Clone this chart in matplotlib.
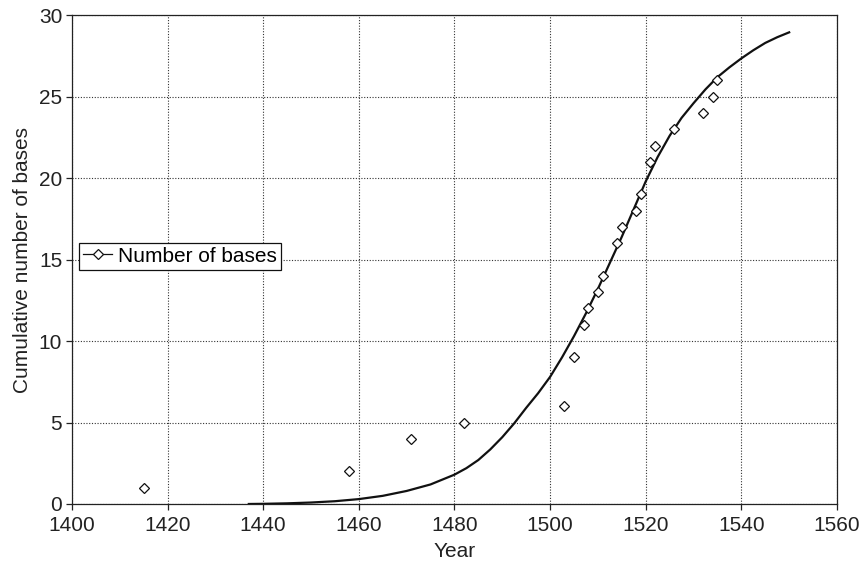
import matplotlib
matplotlib.use("Agg")
import matplotlib.pyplot as plt

# Observed data points (year, cumulative number of bases)
years = [1415, 1458, 1471, 1482, 1503, 1505, 1507, 1508, 1510, 1511,
         1514, 1515, 1518, 1519, 1521, 1522, 1526, 1532, 1534, 1535]
bases = [1, 2, 4, 5, 6, 9, 11, 12, 13, 14,
         16, 17, 18, 19, 21, 22, 23, 24, 25, 26]

# Fitted curve, values
curve_years = [1437, 1440, 1445, 1450, 1455, 1460, 1465, 1470, 1472.5, 1475,
               1477.5, 1480, 1482.5, 1485, 1487.5, 1490, 1492.5, 1495, 1497.5,
               1500, 1502.5, 1505, 1507.5, 1510, 1512.5, 1515, 1517.5, 1520,
               1522.5, 1525, 1527.5, 1530, 1532.5, 1535, 1537.5, 1540, 1542.5,
               1545, 1547.5, 1550]
curve_vals = [0.0, 0.01, 0.04, 0.09, 0.17, 0.3, 0.5, 0.8, 1.0, 1.2,
              1.5, 1.8, 2.2, 2.7, 3.35, 4.1, 4.95, 5.9, 6.8,
              7.8, 9.0, 10.3, 11.7, 13.2, 14.8, 16.4, 18.1, 19.8,
              21.3, 22.6, 23.7, 24.6, 25.45, 26.2, 26.8, 27.35, 27.85,
              28.3, 28.65, 28.95]

xticks = [1400, 1420, 1440, 1460, 1480, 1500, 1520, 1540, 1560]
yticks = [0, 5, 10, 15, 20, 25, 30]

plt.rcParams['font.family'] = ['Liberation Sans', 'DejaVu Sans']

fig = plt.figure(figsize=(8.66, 5.64), dpi=100)
ax = fig.add_axes([0.083, 0.1064, 0.8835, 0.8666])

ax.plot(curve_years, curve_vals, color='#111111', lw=1.6, zorder=3,
        solid_joinstyle='round')
ax.plot(years, bases, linestyle='none', marker='D', ms=4.8, mfc='white',
        mec='#111111', mew=0.9, zorder=4)

# legend proxy: line with diamond marker
proxy, = ax.plot([], [], color='#111111', lw=0.9, marker='D', ms=4.8,
                 mfc='white', mec='#111111', mew=0.9, label='Number of bases')

ax.set_xlim(1400, 1560)
ax.set_ylim(0, 30)
ax.set_xticks(xticks)
ax.set_yticks(yticks)
ax.grid(True, linestyle=(0, (1, 1.5)), color='#333333', lw=0.8)
ax.set_axisbelow(True)

for s in ax.spines.values():
    s.set_linewidth(0.9)
    s.set_color('#222222')

ax.tick_params(direction='out', length=4, width=0.9, labelsize=15,
               colors='#222222')
ax.tick_params(axis='x', pad=4.5)
ax.tick_params(axis='y', pad=3)
ax.set_xlabel('Year', fontsize=15, color='#222222', labelpad=5)
ax.set_ylabel('Cumulative number of bases', fontsize=15, color='#222222', labelpad=5)

leg = ax.legend(handles=[proxy], loc='center left', bbox_to_anchor=(0.0095, 0.507),
                fontsize=15, frameon=True, fancybox=False, borderpad=0.2,
                handlelength=1.4, handletextpad=0.25, borderaxespad=0)
leg.get_frame().set_edgecolor('#111111')
leg.get_frame().set_linewidth(0.9)
leg.get_frame().set_alpha(1)

fig.savefig('out.png', dpi=100)
